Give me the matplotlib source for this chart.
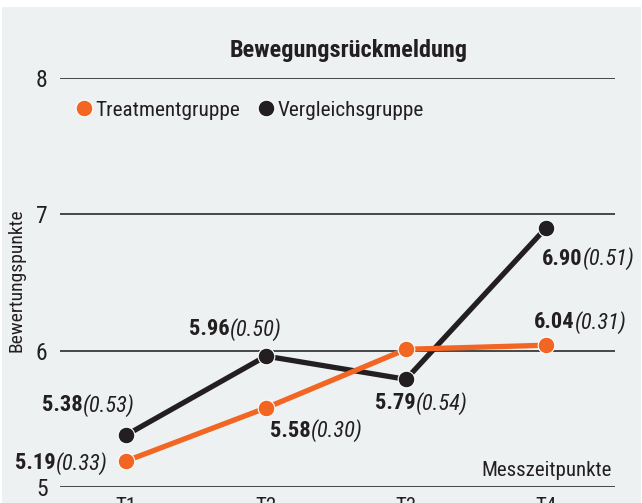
import matplotlib
matplotlib.use('Agg')
import matplotlib.pyplot as plt
from matplotlib import font_manager as fm
from matplotlib.patches import Rectangle
from matplotlib.lines import Line2D

# ---- data ----
timepoints = ['T1', 'T2', 'T3', 'T4']
treatment = [5.19, 5.58, 6.01, 6.04]
treatment_sd = [0.33, 0.30, None, 0.31]
comparison = [5.38, 5.96, 5.79, 6.90]
comparison_sd = [0.53, 0.50, 0.54, 0.51]
yticks = [5, 6, 7, 8]
title = 'Bewegungsrückmeldung'
ylabel = 'Bewertungspunkte'
xlabel = 'Messzeitpunkte'
series_names = ['Treatmentgruppe', 'Vergleichsgruppe']

# ---- font: look for a condensed sans ----
names = {f.name for f in fm.fontManager.ttflist}
pref = ['Roboto Condensed', 'Liberation Sans Narrow']
family = 'DejaVu Sans'
for p in pref:
    if p in names:
        family = p
        break
plt.rcParams['font.family'] = [family, 'DejaVu Sans']
if family == 'Roboto Condensed':
    sz = dict(title=17.5, legend=15.3, value=16.2, ylab=14, xlab=15, ytick=17, xtick=15)
else:
    sz = dict(title=14, legend=13, value=12.5, ylab=12, xlab=12.5, ytick=15, xtick=13)

ORANGE = '#f26522'
BLACK = '#231f20'
BG = '#edf1f2'
TXT = '#231f20'

W, H = 642, 503
fig = plt.figure(figsize=(W / 100, H / 100), dpi=100, facecolor='white')
fig.patches.append(Rectangle((2 / W, 0), 1 - 3 / W, 1 - 7 / H, transform=fig.transFigure,
                             facecolor=BG, edgecolor='none', zorder=-10))

ax = fig.add_axes([60 / W, 16 / H, 555 / W, 409 / H])
ax.set_facecolor('none')
for s in ax.spines.values():
    s.set_visible(False)
x = list(range(len(timepoints)))
ax.set_xlim(-0.471, 3.493)
ax.set_ylim(5, 8)
ax.set_yticks(yticks)
ax.set_yticklabels([str(v) for v in yticks])
ax.set_xticks(x)
ax.set_xticklabels(timepoints)
ax.yaxis.grid(True, color='#2a2a2a', lw=1.2)
ax.set_axisbelow(True)
ax.tick_params(axis='y', length=0, pad=9, labelsize=sz['ytick'], colors=TXT)
ax.tick_params(axis='x', length=0, pad=7, labelsize=sz['xtick'], colors=TXT)

lc, = ax.plot(x, comparison, color=BLACK, lw=3.8, marker='o', ms=12,
              markeredgecolor='white', markeredgewidth=0.8, zorder=3, clip_on=False)
lt, = ax.plot(x, treatment, color=ORANGE, lw=3.8, marker='o', ms=12,
              markeredgecolor='white', markeredgewidth=0.8, zorder=4, clip_on=False)

# value labels: (series, sd, index, dx_px, dy_px) offset of the bold/italic split point
label_pos = [
    (comparison, comparison_sd, 0, -43, 30),
    (treatment, treatment_sd, 0, -70, -2),
    (comparison, comparison_sd, 1, -36, 27),
    (treatment, treatment_sd, 1, 45, -23),
    (comparison, comparison_sd, 2, 10, -24),
    (comparison, comparison_sd, 3, 37, -31),
    (treatment, treatment_sd, 3, 29, 23),
]
for vals, sds, i, dx, dy in label_pos:
    ax.annotate(f'{vals[i]:.2f}', (x[i], vals[i]), xytext=(dx, dy), textcoords='offset pixels',
                ha='right', va='center', fontsize=sz['value'], fontweight='bold', color=TXT)
    ax.annotate(f'({sds[i]:.2f})', (x[i], vals[i]), xytext=(dx, dy), textcoords='offset pixels',
                ha='left', va='center', fontsize=sz['value'], fontstyle='italic', color=TXT)

handles = [Line2D([], [], ls='none', marker='o', ms=12, color=ORANGE, markeredgecolor='white', markeredgewidth=0.8),
           Line2D([], [], ls='none', marker='o', ms=12, color=BLACK, markeredgecolor='white', markeredgewidth=0.8)]
leg = fig.legend(handles, series_names, loc='center left', bbox_to_anchor=(74 / W, 1 - 110 / H),
                 ncol=2, frameon=False, fontsize=sz['legend'], handlelength=0.9, handletextpad=0.1,
                 columnspacing=0.75, borderaxespad=0, borderpad=0)
for t in leg.get_texts():
    t.set_color(TXT)

fig.text(349 / W, 1 - 50 / H, title, ha='center', va='center', fontsize=sz['title'],
         fontweight='bold', color=TXT)
fig.text(17 / W, 1 - 280 / H, ylabel, rotation=90, ha='center', va='center', fontsize=sz['ylab'], color=TXT)
fig.text(612 / W, 1 - 476 / H, xlabel, ha='right', va='baseline', fontsize=sz['xlab'], color=TXT)

fig.savefig('out.png', dpi=100, facecolor=fig.get_facecolor())
